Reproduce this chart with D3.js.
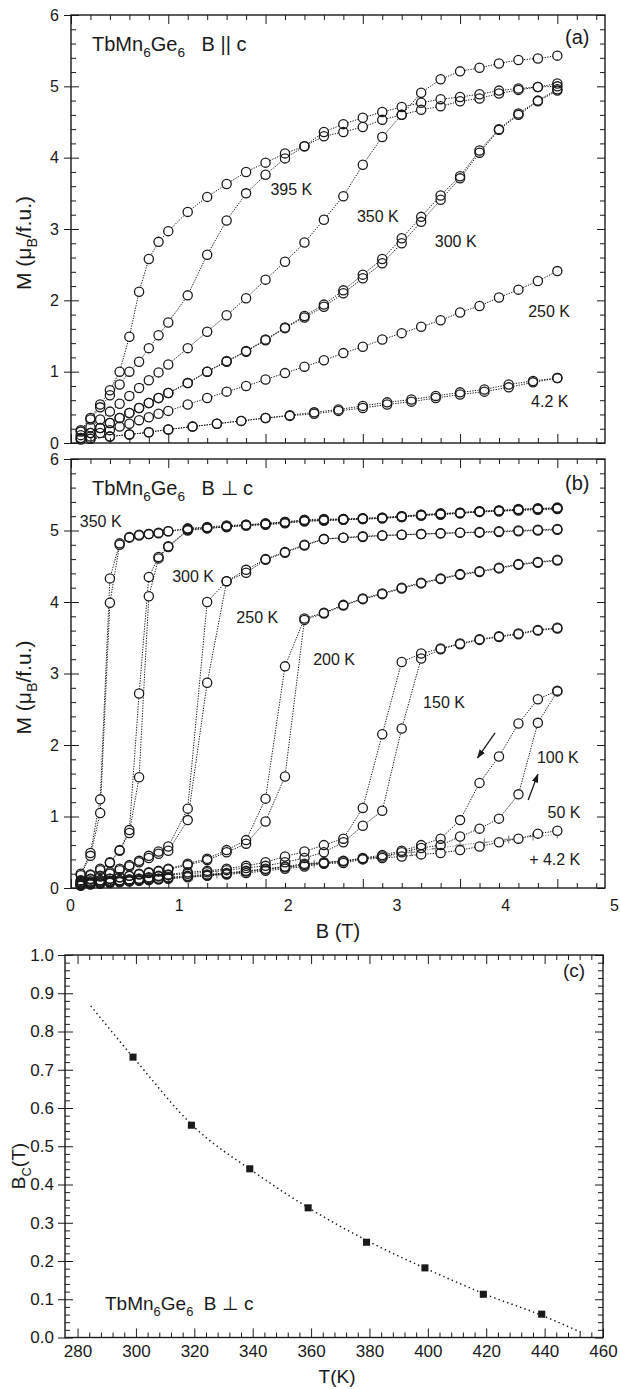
<!DOCTYPE html>
<html>
<head>
<meta charset="utf-8">
<script src="https://cdn.jsdelivr.net/npm/d3@7/dist/d3.min.js"></script>
<style>
  body { margin: 0; background: #fff; }
  svg { display: block; }
</style>
</head>
<body>
<div id="root"></div>
<script>
// field steps of the M(B) sweeps, in T
const fieldSteps = [0.1, 0.2, 0.3, 0.4, 0.5, 0.6, 0.7, 0.8, 0.9, 1.0, 1.2, 1.4, 1.6, 1.8, 2.0, 2.2, 2.4, 2.6, 2.8, 3.0,
  3.2, 3.4, 3.6, 3.8, 4.0, 4.2, 4.4, 4.6, 4.8, 5.0];
const fieldSteps42 = [0.2, 0.4, 0.6, 0.8, 1.0, 1.25, 1.5, 1.75, 2.0, 2.25, 2.5, 2.75, 3.0, 3.25, 3.5, 3.75, 4.0, 4.25, 4.5, 4.75, 5.0];

// (a) B || c, M in muB/f.u.
const aSteep = [0.18, 0.35, 0.54, 0.74, 1.00, 1.49, 2.12, 2.58, 2.82, 2.97, 3.24, 3.45, 3.63, 3.80, 3.93, 4.06, 4.16, 4.30, 4.36, 4.43,
  4.53, 4.60, 4.67, 4.72, 4.79, 4.83, 4.90, 4.95, 4.99, 5.00];
const a395 = [0.16, 0.33, 0.50, 0.67, 0.82, 1.00, 1.14, 1.33, 1.51, 1.69, 2.07, 2.64, 3.12, 3.50, 3.76, 3.99, 4.16, 4.36, 4.47, 4.56,
  4.64, 4.71, 4.77, 4.82, 4.85, 4.89, 4.94, 4.97, 4.99, 5.04];
const a350 = [0.11, 0.22, 0.33, 0.44, 0.55, 0.66, 0.77, 0.88, 0.99, 1.10, 1.33, 1.56, 1.79, 2.03, 2.29, 2.54, 2.81, 3.13, 3.46, 3.90,
  4.29, 4.60, 4.91, 5.10, 5.21, 5.26, 5.32, 5.37, 5.39, 5.43];
const a300up = [0.07, 0.14, 0.21, 0.28, 0.35, 0.42, 0.49, 0.56, 0.63, 0.70, 0.84, 1.00, 1.14, 1.28, 1.44, 1.61, 1.76, 1.91, 2.10, 2.31,
  2.52, 2.80, 3.10, 3.41, 3.71, 4.07, 4.39, 4.60, 4.79, 4.94];
const a300down = [0.07, 0.14, 0.21, 0.28, 0.35, 0.42, 0.49, 0.56, 0.63, 0.70, 0.84, 1.00, 1.15, 1.29, 1.45, 1.62, 1.78, 1.94, 2.14, 2.36,
  2.58, 2.87, 3.17, 3.47, 3.74, 4.10, 4.40, 4.62, 4.80, 4.96];
const a250 = [0.05, 0.09, 0.14, 0.18, 0.23, 0.27, 0.32, 0.36, 0.41, 0.45, 0.54, 0.63, 0.72, 0.80, 0.89, 0.98, 1.07, 1.16, 1.26, 1.35,
  1.45, 1.54, 1.63, 1.72, 1.83, 1.92, 2.04, 2.15, 2.27, 2.41];
const a4K = [0.06, 0.09, 0.12, 0.15, 0.19, 0.23, 0.27, 0.31, 0.35, 0.39, 0.43, 0.47, 0.52, 0.57, 0.61, 0.66, 0.71, 0.75, 0.82, 0.87, 0.91];
const a4Kdown = [0.06, 0.09, 0.12, 0.15, 0.19, 0.23, 0.27, 0.31, 0.35, 0.38, 0.41, 0.45, 0.49, 0.54, 0.58, 0.63, 0.68, 0.72, 0.78, 0.85, 0.91];

// (b) B ⊥ c, increasing / decreasing field
const b350up = [0.18, 0.45, 1.05, 3.99, 4.80, 4.90, 4.93, 4.95, 4.96, 4.99, 5.02, 5.04, 5.06, 5.08, 5.09, 5.12, 5.15, 5.16, 5.16, 5.17,
  5.18, 5.20, 5.22, 5.23, 5.25, 5.27, 5.28, 5.29, 5.30, 5.31];
const b350down = [0.20, 0.49, 1.24, 4.33, 4.82, 4.91, 4.94, 4.95, 4.97, 4.99, 5.03, 5.05, 5.07, 5.08, 5.10, 5.12, 5.14, 5.15, 5.16, 5.17,
  5.18, 5.20, 5.22, 5.24, 5.25, 5.27, 5.28, 5.30, 5.31, 5.32];
const b300up = [0.10, 0.18, 0.25, 0.35, 0.52, 0.77, 1.55, 4.08, 4.61, 4.77, 5.00, 5.03, 5.05, 5.07, 5.08, 5.10, 5.13, 5.14, 5.15, 5.16,
  5.17, 5.19, 5.21, 5.22, 5.24, 5.26, 5.27, 5.28, 5.29, 5.30];
const b300down = [0.11, 0.19, 0.27, 0.36, 0.53, 0.81, 2.72, 4.35, 4.63, 4.78, 5.01, 5.03, 5.05, 5.07, 5.09, 5.11, 5.13, 5.14, 5.15, 5.16,
  5.17, 5.19, 5.21, 5.23, 5.24, 5.26, 5.27, 5.29, 5.30, 5.31];
const b250up = [0.08, 0.12, 0.16, 0.20, 0.25, 0.30, 0.36, 0.42, 0.48, 0.52, 0.95, 2.87, 4.29, 4.41, 4.59, 4.69, 4.79, 4.88, 4.90, 4.91,
  4.93, 4.94, 4.95, 4.96, 4.97, 4.97, 4.98, 4.99, 5.00, 5.01];
const b250down = [0.08, 0.13, 0.17, 0.22, 0.27, 0.32, 0.38, 0.45, 0.51, 0.58, 1.11, 4.00, 4.29, 4.45, 4.60, 4.70, 4.80, 4.88, 4.90, 4.92,
  4.93, 4.94, 4.95, 4.96, 4.97, 4.98, 4.99, 5.00, 5.01, 5.02];
const b200up = [0.06, 0.09, 0.11, 0.13, 0.15, 0.17, 0.19, 0.21, 0.23, 0.26, 0.32, 0.39, 0.50, 0.62, 0.93, 1.56, 3.75, 3.84, 3.95, 4.04,
  4.11, 4.19, 4.26, 4.32, 4.38, 4.42, 4.47, 4.52, 4.55, 4.58];
const b200down = [0.06, 0.09, 0.11, 0.13, 0.15, 0.17, 0.20, 0.22, 0.24, 0.27, 0.34, 0.41, 0.53, 0.67, 1.25, 3.10, 3.77, 3.85, 3.96, 4.05,
  4.12, 4.20, 4.27, 4.33, 4.39, 4.43, 4.48, 4.53, 4.56, 4.59];
const b150up = [0.05, 0.07, 0.09, 0.10, 0.11, 0.12, 0.13, 0.14, 0.16, 0.18, 0.20, 0.22, 0.25, 0.28, 0.31, 0.36, 0.42, 0.50, 0.64, 0.87,
  1.08, 2.23, 3.21, 3.34, 3.41, 3.47, 3.51, 3.55, 3.60, 3.63];
const b150down = [0.05, 0.07, 0.09, 0.10, 0.11, 0.12, 0.13, 0.15, 0.17, 0.19, 0.22, 0.24, 0.27, 0.31, 0.36, 0.44, 0.51, 0.60, 0.69, 1.12,
  2.15, 3.16, 3.28, 3.35, 3.42, 3.48, 3.52, 3.56, 3.61, 3.64];
const b100up = [0.04, 0.06, 0.07, 0.08, 0.09, 0.10, 0.11, 0.12, 0.13, 0.14, 0.16, 0.18, 0.20, 0.23, 0.26, 0.29, 0.32, 0.35, 0.37, 0.41,
  0.44, 0.50, 0.56, 0.60, 0.72, 0.83, 0.97, 1.31, 2.31, 2.75];
const b100down = [0.04, 0.06, 0.07, 0.08, 0.09, 0.10, 0.11, 0.12, 0.13, 0.15, 0.17, 0.19, 0.21, 0.24, 0.27, 0.30, 0.34, 0.36, 0.38, 0.42,
  0.46, 0.52, 0.60, 0.69, 0.95, 1.47, 1.84, 2.30, 2.64, 2.76];
const b50 = [0.03, 0.05, 0.06, 0.07, 0.08, 0.09, 0.10, 0.11, 0.12, 0.13, 0.15, 0.17, 0.19, 0.21, 0.24, 0.27, 0.30, 0.34, 0.35, 0.40,
  0.42, 0.44, 0.47, 0.49, 0.53, 0.58, 0.64, 0.69, 0.76, 0.80];
const b4K = [0.05, 0.07, 0.09, 0.11, 0.13, 0.16, 0.19, 0.22, 0.26, 0.30, 0.34, 0.37, 0.41, 0.45, 0.50, 0.55, 0.60, 0.64, 0.68, 0.72, 0.75];

// (c) critical field vs temperature
const bcTemp = [299, 319, 339, 359, 379, 399, 419, 439];
const bcField = [0.733, 0.555, 0.441, 0.339, 0.249, 0.182, 0.113, 0.061];
const fitTemp = [284.5, 300, 320, 340, 360, 380, 400, 420, 440, 453.5];
const fitField = [0.867, 0.724, 0.55, 0.435, 0.335, 0.25, 0.178, 0.112, 0.055, 0.01];

const tempLabelsA = ['395 K', '350 K', '300 K', '250 K', '4.2 K'];
const tempLabelsB = ['350 K', '300 K', '250 K', '200 K', '150 K', '100 K', '50 K', '+ 4.2 K'];

const FONT = '"Liberation Sans", Arial, Helvetica, sans-serif';
const INK = '#1a1a1a';

const svg = d3.select('#root').append('svg')
  .attr('width', 620).attr('height', 1389)
  .attr('font-family', FONT);

const L = 71, R = 605;
const x = d3.scaleLinear().domain([0, 5.49]).range([L, R]);
// the B tick labels of the source sit on a wider spacing than its tick marks
const xLabel = d3.scaleLinear().domain([0, 5]).range([70, 614]);

const xTicks = d3.range(28).map(i => +(i * 0.2).toFixed(1));
const mTicks = d3.range(31).map(i => +(i * 0.2).toFixed(1));
const isInt = v => Math.abs(v - Math.round(v)) < 1e-6;

function tickAxis(g, axis, transform, values, size) {
  g.append('g').attr('transform', transform)
    .call(axis.tickValues(values).tickSize(size).tickFormat(''))
    .call(a => a.select('.domain').remove())
    .selectAll('line').attr('stroke', INK).attr('stroke-width', 1);
}

// frame with inward ticks on all four sides
function box(g, xs, ys, xVals, xMajor, yVals, yMajor) {
  const [x0, x1] = xs.range();
  const [y0, y1] = ys.range();
  const minX = xVals.filter(v => !xMajor(v)), majX = xVals.filter(xMajor);
  const minY = yVals.filter(v => !yMajor(v)), majY = yVals.filter(yMajor);
  tickAxis(g, d3.axisTop(xs), `translate(0,${y0})`, minX, 5);
  tickAxis(g, d3.axisTop(xs), `translate(0,${y0})`, majX, 9);
  tickAxis(g, d3.axisBottom(xs), `translate(0,${y1})`, minX, 5);
  tickAxis(g, d3.axisBottom(xs), `translate(0,${y1})`, majX, 9);
  tickAxis(g, d3.axisRight(ys), `translate(${x0},0)`, minY, 5);
  tickAxis(g, d3.axisRight(ys), `translate(${x0},0)`, majY, 8);
  tickAxis(g, d3.axisLeft(ys), `translate(${x1},0)`, minY, 5);
  tickAxis(g, d3.axisLeft(ys), `translate(${x1},0)`, majY, 8);
  return g.append('rect')
    .attr('x', x0).attr('y', y1).attr('width', x1 - x0).attr('height', y0 - y1)
    .attr('fill', 'none').attr('stroke', INK).attr('stroke-width', 1.4);
}

function labelAxis(g, axis, transform, size) {
  g.append('g').attr('transform', transform)
    .call(axis)
    .call(a => a.select('.domain').remove())
    .attr('font-family', FONT).attr('font-size', size).attr('color', INK)
    .selectAll('line').attr('stroke-width', 1);
}

// text with subscripts: parts = [[text, isSub], ...]
function richText(g, px, py, size, parts, rotate) {
  const t = g.append('text').attr('font-size', size).attr('fill', INK);
  if (rotate) t.attr('transform', `translate(${px},${py}) rotate(-90)`).attr('text-anchor', 'middle');
  else t.attr('x', px).attr('y', py);
  let down = false;
  parts.forEach(([s, sub]) => {
    const shift = sub ? (down ? 0 : size * 0.3) : (down ? -size * 0.3 : 0);
    t.append('tspan').attr('dy', shift).attr('font-size', sub ? size * 0.68 : size).text(s);
    down = !!sub;
  });
  return t;
}

function drawSweeps(g, ys, sweeps) {
  const line = d3.line().x(d => x(d[0])).y(d => ys(d[1]));
  const data = sweeps.map(([f, m]) => d3.zip(f, m));
  g.append('g').selectAll('path').data(data).join('path')
    .attr('d', line).attr('fill', 'none')
    .attr('stroke', INK).attr('stroke-width', 1).attr('stroke-dasharray', '1.3,1.3');
  const pts = data.flat();
  g.append('g').selectAll('circle').data(pts).join('circle')
    .attr('cx', d => x(d[0])).attr('cy', d => ys(d[1])).attr('r', 4.6).attr('fill', '#fff');
  g.append('g').selectAll('circle').data(pts).join('circle')
    .attr('cx', d => x(d[0])).attr('cy', d => ys(d[1])).attr('r', 4.6)
    .attr('fill', 'none').attr('stroke', INK).attr('stroke-width', 1.3);
}

function mPanel(top, bottom, sweeps, extras) {
  const ys = d3.scaleLinear().domain([0, 6]).range([bottom, top]);
  const g = svg.append('g');
  if (extras) extras(g, ys);
  drawSweeps(g, ys, sweeps);
  box(g, x, ys, xTicks, isInt, mTicks, isInt);
  labelAxis(g, d3.axisLeft(ys).tickValues(mTicks.filter(isInt)).tickSize(7).tickPadding(5).tickFormat(d3.format('d')),
    `translate(${L},0)`, 16);
  richText(g, 31, (top + bottom) / 2 + 14, 21,
    [['M (\u03bc'], ['B', 1], ['/f.u.)']], true);
  return { g, ys };
}

// ---------- panel (a)
const pa = mPanel(15, 443, [
  [fieldSteps, aSteep], [fieldSteps, a395], [fieldSteps, a350],
  [fieldSteps, a300up], [fieldSteps, a300down], [fieldSteps, a250],
  [fieldSteps42, a4K], [fieldSteps42, a4Kdown]
]);
richText(pa.g, 92, 51, 20, [['TbMn'], ['6', 1], ['Ge'], ['6', 1], ['\u00a0\u00a0\u00a0B || c']]);
pa.g.append('text').attr('x', 565).attr('y', 44).attr('font-size', 20).attr('fill', INK).text('(a)');
const posA = [[2.05, 3.48], [2.94, 3.10], [3.74, 2.75], [4.70, 1.77], [4.73, 0.50]];
pa.g.selectAll('.tl').data(tempLabelsA).join('text')
  .attr('x', (d, i) => x(posA[i][0])).attr('y', (d, i) => pa.ys(posA[i][1]))
  .attr('font-size', 16).attr('fill', INK).text(d => d);

// ---------- panel (b)
const pb = mPanel(459, 888, [
  [fieldSteps, b350up], [fieldSteps, b350down], [fieldSteps, b300up], [fieldSteps, b300down],
  [fieldSteps, b250up], [fieldSteps, b250down], [fieldSteps, b200up], [fieldSteps, b200down],
  [fieldSteps, b150up], [fieldSteps, b150down], [fieldSteps, b100up], [fieldSteps, b100down],
  [fieldSteps, b50]
], (g, ys) => {
  const pts = d3.zip(fieldSteps42, b4K);
  g.append('path').datum(pts)
    .attr('d', d3.line().x(d => x(d[0])).y(d => ys(d[1])))
    .attr('fill', 'none').attr('stroke', '#888').attr('stroke-width', 1).attr('stroke-dasharray', '1.3,1.3');
  g.append('g').selectAll('path').data(pts).join('path')
    .attr('transform', d => `translate(${x(d[0])},${ys(d[1])})`)
    .attr('d', 'M-4,0H4M0,-4V4').attr('stroke', '#8a8a8a').attr('stroke-width', 1.2);
});
richText(pb.g, 92, 495, 20, [['TbMn'], ['6', 1], ['Ge'], ['6', 1], ['\u00a0\u00a0\u00a0B \u22a5 c']]);
pb.g.append('text').attr('x', 565).attr('y', 490).attr('font-size', 20).attr('fill', INK).text('(b)');
const posB = [[0.09, 5.05], [1.04, 4.28], [1.70, 3.71], [2.49, 3.12], [3.62, 2.52], [4.79, 1.75], [4.90, 0.98], [4.71, 0.32]];
pb.g.selectAll('.tl').data(tempLabelsB).join('text')
  .attr('x', (d, i) => x(posB[i][0])).attr('y', (d, i) => pb.ys(posB[i][1]))
  .attr('font-size', 16).attr('fill', INK).text(d => d);

// sweep direction arrows
svg.append('defs').append('marker').attr('id', 'head')
  .attr('viewBox', '0 0 10 10').attr('refX', 9).attr('refY', 5)
  .attr('markerWidth', 7).attr('markerHeight', 7).attr('orient', 'auto')
  .append('path').attr('d', 'M0,1.5L10,5L0,8.5Z').attr('fill', INK);
const arrows = [[[4.36, 2.17], [4.18, 1.82]], [[4.70, 1.23], [4.80, 1.59]]];
pb.g.selectAll('.arrow').data(arrows).join('line')
  .attr('x1', d => x(d[0][0])).attr('y1', d => pb.ys(d[0][1]))
  .attr('x2', d => x(d[1][0])).attr('y2', d => pb.ys(d[1][1]))
  .attr('stroke', INK).attr('stroke-width', 1.3).attr('marker-end', 'url(#head)');

labelAxis(pb.g, d3.axisBottom(xLabel).tickValues([0, 1, 2, 3, 4, 5]).tickSize(0).tickPadding(11.6)
  .tickFormat(d3.format('d')), 'translate(0,888)', 16);
pb.g.append('text').attr('x', 338).attr('y', 938).attr('text-anchor', 'middle')
  .attr('font-size', 20).attr('fill', INK).text('B (T)');

// ---------- panel (c)
const xc = d3.scaleLinear().domain([275.7, 460]).range([65, 603]);
const yc = d3.scaleLinear().domain([0, 1]).range([1337.5, 955]);
const gc = svg.append('g');
const tTicks = d3.range(280, 461, 4);
const bTicks = d3.range(51).map(i => +(i * 0.02).toFixed(2));
const tMajor = t => (t - 280) % 20 === 0;
const bMajor = v => Math.round(v * 100) % 10 === 0;

gc.append('path').datum(d3.zip(fitTemp, fitField))
  .attr('d', d3.line().curve(d3.curveMonotoneX).x(d => xc(d[0])).y(d => yc(d[1])))
  .attr('fill', 'none').attr('stroke', INK).attr('stroke-width', 1.5).attr('stroke-dasharray', '1.4,3.2');
gc.append('g').selectAll('path').data(d3.zip(bcTemp, bcField)).join('path')
  .attr('transform', d => `translate(${xc(d[0])},${yc(d[1])})`)
  .attr('d', d3.symbol(d3.symbolSquare, 50)).attr('fill', INK);

box(gc, xc, yc, tTicks, tMajor, bTicks, bMajor);
labelAxis(gc, d3.axisLeft(yc).tickValues(bTicks.filter(bMajor)).tickSize(7).tickPadding(4).tickFormat(d3.format('.1f')),
  'translate(65,0)', 17);
labelAxis(gc, d3.axisBottom(xc).tickValues(tTicks.filter(tMajor)).tickSize(0).tickPadding(7.4)
  .tickFormat(d3.format('d')), 'translate(0,1337.5)', 17);
gc.append('text').attr('x', 337).attr('y', 1383).attr('text-anchor', 'middle')
  .attr('font-size', 19).attr('fill', INK).text('T(K)');
richText(gc, 25, 1166, 19, [['B'], ['C', 1], ['(T)']], true);
richText(gc, 105, 1310, 19, [['TbMn'], ['6', 1], ['Ge'], ['6', 1], ['\u00a0\u00a0B \u22a5 c']]);
gc.append('text').attr('x', 563).attr('y', 977).attr('font-size', 19).attr('fill', INK).text('(c)');
</script>
</body>
</html>
